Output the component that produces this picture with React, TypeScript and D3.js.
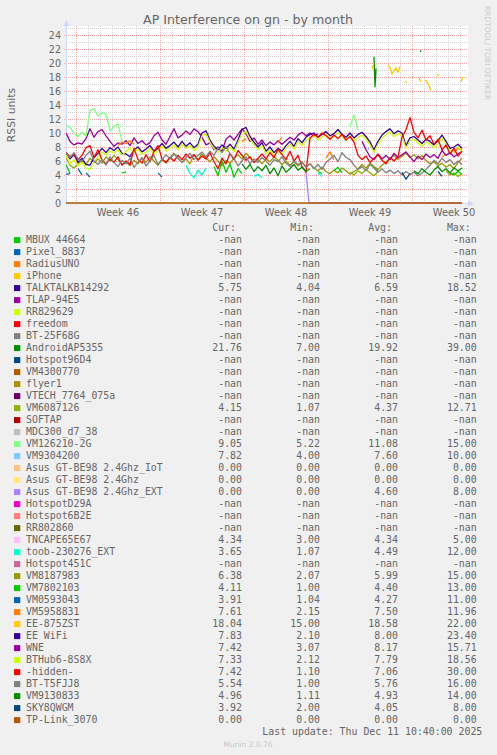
import React from "react";
import * as d3 from "d3";

// time span of the month graph (plot left edge .. right edge)
const T0 = new Date(2025, 10, 8, 4, 0);
const T1 = new Date(2025, 11, 11, 12, 0);
const HOUR = 3600 * 1000;

type Seg = { h: number; step: number; v: number[] };
// segment of 8-hour samples starting at sample index i
const seg = (i: number, v: number[]): Seg => ({ h: i * 8, step: 8, v });
// segment with its own start hour / step
const fine = (h: number, step: number, v: number[]): Seg => ({ h, step, v });

// ---- plotted values (RSSI units) ----
const TLAP_94E5: Seg[] = [
  seg(0, [10.0, 8.8, 8.3, 8.6, 8.4, 9.2, 10.6, 9.4, 10.2, 10.5,
    9.6, 8.8, 8.1, 8.6, 8.4, 8.9, 8.2, 9.3, 8.5, 8.9,
    8.3, 8.6, 9.6, 10.1, 9.0, 8.4, 9.5, 10.6, 9.3, 9.7,
    10.3, 9.8, 10.6, 10.2, 9.4, 8.3, 8.6, 7.6, 8.0, 7.4,
    9.1, 9.6, 9.0, 9.8, 10.6, 9.9, 8.8, 9.3, 8.4, 9.0,
    8.2, 8.7, 8.3, 8.9, 8.4, 8.9, 9.4, 9.0, 9.7, 10.1,
    9.6, 10.0, 9.5, 9.9]),
];

const WNE: Seg[] = [
  seg(74, [8.8, 7.6, 6.6, 6.2, 7.0, 6.3, 6.8, 6.2, 7.1, 6.5,
    6.9, 7.3, 6.6, 5.9, 6.7, 6.2, 7.0, 6.5, 6.9, 6.4,
    7.5, 6.8, 7.2, 6.6, 7.0, 7.4]),
];

const BTHUB6: Seg[] = [
  seg(0, [6.8, 5.6, 6.2, 5.3, 5.8, 5.0, 4.8, 5.9, 6.6, 7.3,
    6.9, 7.5, 7.1, 7.6, 6.8, 7.4, 7.9, 7.2, 7.7, 6.9,
    7.3, 7.8, 7.0, 7.5, 8.1, 7.4, 7.9, 8.3, 7.6, 8.4,
    7.8, 8.2, 7.5, 8.0, 9.6, 9.9, 8.6, 7.8, 7.2, 7.9,
    7.4, 8.0, 7.3, 8.6, 9.9, 10.2, 9.1, 8.3, 7.6, 8.2,
    7.0, 7.6, 6.8, 7.4, 7.0, 7.8, 8.4, 7.7, 8.8, 8.2,
    9.0, 9.3, 9.6, 9.0, 9.4, 9.8, 9.2, 9.5, 10.1, 9.4,
    9.0, 9.6, 8.9, 9.4, 9.7, 9.1, 8.3, 7.2, 8.4, 9.3,
    9.8, 10.2, 9.5, 9.9, 9.6, 7.8, 8.9, 9.1, 8.6, 8.1,
    8.7, 8.4, 7.9, 8.5, 9.3, 8.4, 7.4, 7.6, 8.0, 7.3]),
];

const EE_WIFI: Seg[] = [
  seg(0, [7.2, 6.3, 6.9, 5.8, 6.4, 5.5, 5.4, 6.5, 7.1, 7.8,
    7.2, 7.9, 7.5, 8.0, 7.1, 7.0, 6.6, 7.6, 8.0, 7.3,
    7.7, 8.2, 7.4, 7.8, 8.5, 7.8, 8.2, 8.7, 8.0, 8.8,
    8.1, 8.6, 7.9, 8.4, 10.0, 10.3, 9.0, 8.1, 7.6, 8.3,
    7.8, 8.4, 7.7, 9.0, 10.5, 10.8, 9.5, 8.7, 8.0, 8.6,
    7.4, 8.0, 7.2, 7.8, 7.4, 8.2, 8.8, 8.1, 9.2, 8.6,
    9.4, 9.8, 10.0, 9.4, 9.8, 10.2, 9.6, 9.9, 10.5, 9.8,
    9.4, 10.0, 9.3, 9.8, 10.1, 9.5, 8.7, 7.6, 8.8, 9.7,
    10.2, 10.6, 9.9, 10.3, 10.0, 8.2, 9.3, 9.5, 9.0, 8.5,
    9.1, 8.8, 8.3, 8.9, 9.7, 8.8, 7.8, 8.0, 8.4, 7.8]),
];

const HIDDEN: Seg[] = [
  seg(0, [7.2, 6.6, 7.0, 6.2, 6.8, 7.9, 8.2, 6.5, 7.6, 6.1,
    5.6, 6.3, 5.8, 6.6, 5.4, 6.0, 5.5, 7.8, 6.2, 5.7,
    6.9, 5.9, 7.4, 8.2, 6.3, 5.8, 6.5, 6.0, 6.8, 6.2,
    7.0, 6.4, 6.9, 6.1, 6.7, 6.3, 7.2, 5.9, 4.9, 6.4,
    5.6, 7.1, 6.2, 7.5, 6.8, 6.1, 6.6, 5.8, 6.4, 7.0,
    6.3, 7.2, 6.5, 7.7, 6.9, 6.2, 7.4, 6.0, 6.8, 5.2,
    4.4, 9.3, 9.8, 9.4, 10.0, 9.6, 9.1, 9.7, 9.2, 9.8,
    9.0, 9.5, 8.7, 6.8, 6.2, 6.7, 5.8, 6.4, 6.9, 6.1,
    5.6, 6.5, 6.0, 6.6, 9.4, 10.5, 12.2, 10.1, 9.3, 10.4,
    9.0, 9.6, 8.4, 9.1, 7.6, 8.3, 7.0, 7.8, 6.7, 7.4]),
];

const BT_T5FJJ8: Seg[] = [
  seg(0, [7.1, 6.5, 7.2, 6.3, 5.9, 6.8, 7.4, 6.0, 5.5, 6.2,
    5.4, 6.6, 5.8, 5.2, 6.1, 5.6, 6.4, 5.1, 5.8, 6.5,
    5.3, 6.0, 6.8, 5.5, 6.2, 6.9, 6.3, 7.0, 6.4, 5.8,
    6.5, 7.1, 6.2, 6.8, 7.3, 6.6, 7.4, 6.8, 7.9, 7.2,
    8.1, 7.0, 6.4, 5.3, 6.0, 6.6, 5.6, 6.3, 5.8, 6.5,
    6.0, 5.4, 6.2, 5.9, 6.6, 5.7, 5.2, 6.0, 5.5, 5.9,
    5.1, 5.6, 4.9, 5.5, 4.8, 5.8, 6.3, 6.8, 5.9, 7.2,
    6.5, 6.2, 5.4, 4.8, 5.2, 4.6, 5.5, 5.0, 4.4, 4.9,
    4.3, 4.7, 4.2, 4.6, 4.0, 4.5, 4.1, 4.4, 3.9, 4.3,
    4.8, 5.4, 6.1, 5.6, 6.4, 5.8, 6.2, 5.5, 6.0, 5.5]),
];

const VM8187983: Seg[] = [
  seg(0, [6.5, 5.4, 5.0, 5.6, 6.1, 5.5, 6.4, 5.8, 6.3, 5.7,
    6.6, 6.0, 6.8, 6.2, 5.5, 5.9, 5.3, 6.1, 5.6, 6.4,
    5.8, 6.6, 6.0, 5.4, 6.2, 5.7, 6.5, 7.1, 6.4, 5.8,
    6.3, 5.6, 6.9, 6.2, 7.0, 6.4, 5.9, 6.6, 6.0, 5.3,
    6.1, 5.7, 6.4, 6.9, 6.3, 7.1, 6.5, 5.8, 6.2, 5.6,
    6.3, 5.9, 6.6, 6.1, 5.5, 6.0, 5.4, 5.9, 5.3, 5.8,
    5.2, 5.6, 5.0, 4.6, 5.1, 4.5, 4.2, 4.7, 4.3, 5.0,
    4.6, 4.1, 4.5, 4.9, 5.5, 5.0, 5.7, 5.2, 4.8, 5.4,
    5.9, 6.4, 6.8, 6.2, 6.7, 7.1, 6.5, 6.9, 6.3, 6.8,
    6.1, 5.6, 5.9, 5.3, 5.7, 5.1, 5.5, 4.9, 5.8, 6.4]),
];

const VM6087126: Seg[] = [
  seg(71, [4.4, 4.0, 4.6, 4.2, 4.8, 4.3, 3.9, 4.5]),
  seg(95, [4.6, 4.0, 4.3, 3.8, 4.2]),
];

const VM9130833: Seg[] = [
  seg(44, [5.6, 4.8, 5.5, 4.5, 5.2, 4.6, 5.4, 4.2, 5.0, 3.9,
    5.3, 4.4, 4.9, 5.5, 4.7, 5.1, 4.5, 4.9]),
  seg(87, [4.6, 4.2, 4.9, 4.4, 4.0, 4.7, 5.2, 4.5, 4.9, 4.3, 5.0, 4.6, 5.0]),
];

const VM7802103: Seg[] = [
  seg(0, [5.5, 4.2]),
  seg(14, [4.3, 4.4]),
  seg(37, [5.2, 3.9, 6.0, 4.4, 5.6, 3.7, 4.9, 4.2]),
  seg(63, [4.5, 4.2]),
  seg(67, [4.6, 5.1, 4.3]),
  seg(77, [5.0, 4.6]),
  seg(96, [4.3, 4.0, 4.5, 4.1]),
];

const TOOB: Seg[] = [
  seg(30, [5.4, 4.2, 3.6, 4.7, 4.0, 5.0]),
  seg(47, [3.8, 4.1, 3.6]),
  seg(63, [4.3, 3.8]),
];

const VM0593043: Seg[] = [
  seg(0, [4.1, 4.2]),
  seg(3, [4.9, 4.0]),
  seg(5, [4.3, 3.7]),
  seg(23, [4.3, 3.7]),
];

const SKY8QWGM: Seg[] = [
  seg(84, [4.4, 3.4, 4.2]),
  seg(93, [4.5, 3.8]),
];

const VM5958831: Seg[] = [
  seg(13, [8.2, 8.7, 8.5, 8.9, 8.4]),
  seg(44, [8.8, 9.2]),
  seg(53, [8.6, 9.4]),
  seg(65, [6.4, 7.3, 6.2]),
  seg(94, [6.6, 7.0]),
  seg(97, [7.2, 7.8, 7.6]),
];

const VM126210_2G: Seg[] = [
  seg(0, [11.1, 10.8, 10.0, 9.5, 10.1, 9.6, 13.2, 13.5, 12.4, 12.9,
    12.7, 10.3, 11.0, 11.3, 8.8]),
  seg(71, [10.9, 12.6, 10.4]),
];

const VM9304200: Seg[] = [fine(604, 2, [7.6, 8.0])];

const ANDROIDAP5355: Seg[] = [
  fine(616, 2, [20.9, 16.6, 19.2]),
  fine(708, 2, [21.6, 21.8]),
];

const EE_875ZST: Seg[] = [
  fine(612, 2, [19.7, 19.1]),
  fine(644, 4, [19.7, 19.4, 18.4, 18.9, 19.3, 18.7, 19.5]),
  fine(678, 4, [17.4, 17.2]),
  fine(706, 4, [17.9, 17.3]),
  fine(718, 4, [17.6, 17.3, 16.8, 16.1]),
  fine(742, 4, [18.4, 18.2]),
  fine(790, 4, [17.3, 18.0]),
];

const ASUS_EXT: Seg[] = [fine(480, 6, [4.4, 0]), fine(486, 306, [0, 0])];
const ASUS_IOT: Seg[] = [fine(486, 306, [0, 0])];
const ASUS_24: Seg[] = [fine(486, 306, [0, 0])];
const TP_LINK_3070: Seg[] = [fine(0, 792, [0, 0])];

// ---- legend ----
const legendNames = [
  "MBUX 44664", "Pixel_8837", "RadiusUNO", "iPhone", "TALKTALKB14292", "TLAP-94E5",
  "RR829629", "freedom", "BT-25F68G", "AndroidAP5355", "Hotspot96D4", "VM4300770",
  "flyer1", "VTECH_7764_075a", "VM6087126", "SOFTAP", "MDC300_d7_38", "VM126210-2G",
  "VM9304200", "Asus GT-BE98 2.4Ghz_IoT", "Asus GT-BE98 2.4Ghz", "Asus GT-BE98 2.4Ghz_EXT",
  "HotspotD29A", "Hotspot6B2E", "RR802860", "TNCAPE65E67", "toob-230276_EXT", "Hotspot451C",
  "VM8187983", "VM7802103", "VM0593043", "VM5958831", "EE-875ZST", "EE WiFi", "WNE",
  "BTHub6-8S8X", "-hidden-", "BT-T5FJJ8", "VM9130833", "SKY8QWGM", "TP-Link_3070",
];

const legendColors = [
  "#00CC00", "#0066B3", "#FF8000", "#FFCC00", "#330099", "#990099", "#CCFF00", "#FF0000",
  "#808080", "#008F00", "#00487D", "#B35A00", "#B38F00", "#6B006B", "#8FB300", "#B30000",
  "#BEBEBE", "#80FF80", "#80C9FF", "#FFC080", "#FFE680", "#AA80FF", "#EE00CC", "#FF8080",
  "#666600", "#FFBFFF", "#00FFCC", "#CC6699", "#999900",
  "#00CC00", "#0066B3", "#FF8000", "#FFCC00", "#330099", "#990099", "#CCFF00", "#FF0000",
  "#808080", "#008F00", "#00487D", "#B35A00",
];

const N = NaN;
const curValues = [N, N, N, N, 5.75, N, N, N, N, 21.76, N, N, N, N, 4.15, N, N, 9.05, 7.82,
  0, 0, 0, N, N, N, 4.34, 3.65, N, 6.38, 4.11, 3.91, 7.61, 18.04, 7.83, 7.42, 7.33, 7.42,
  5.54, 4.96, 3.92, 0];
const minValues = [N, N, N, N, 4.04, N, N, N, N, 7.0, N, N, N, N, 1.07, N, N, 5.22, 4.0,
  0, 0, 0, N, N, N, 3.0, 1.07, N, 2.07, 1.0, 1.04, 2.15, 15.0, 2.1, 3.07, 2.12, 1.1,
  1.0, 1.11, 2.0, 0];
const avgValues = [N, N, N, N, 6.59, N, N, N, N, 19.92, N, N, N, N, 4.37, N, N, 11.08, 7.6,
  0, 0, 4.6, N, N, N, 4.34, 4.49, N, 5.99, 4.4, 4.27, 7.5, 18.58, 8.0, 8.17, 7.79, 7.06,
  5.76, 4.93, 4.05, 0];
const maxValues = [N, N, N, N, 18.52, N, N, N, N, 39.0, N, N, N, N, 12.71, N, N, 15.0, 10.0,
  0, 0, 8.0, N, N, N, 5.0, 12.0, N, 15.0, 13.0, 11.0, 11.96, 22.0, 23.4, 15.71, 18.56, 30.0,
  16.0, 14.0, 8.0, 0];

const seriesData: Record<string, Seg[]> = {
  "TLAP-94E5": TLAP_94E5,
  "AndroidAP5355": ANDROIDAP5355,
  "VM6087126": VM6087126,
  "VM126210-2G": VM126210_2G,
  "VM9304200": VM9304200,
  "Asus GT-BE98 2.4Ghz_IoT": ASUS_IOT,
  "Asus GT-BE98 2.4Ghz": ASUS_24,
  "Asus GT-BE98 2.4Ghz_EXT": ASUS_EXT,
  "toob-230276_EXT": TOOB,
  "VM8187983": VM8187983,
  "VM7802103": VM7802103,
  "VM0593043": VM0593043,
  "VM5958831": VM5958831,
  "EE-875ZST": EE_875ZST,
  "EE WiFi": EE_WIFI,
  "WNE": WNE,
  "BTHub6-8S8X": BTHUB6,
  "-hidden-": HIDDEN,
  "BT-T5FJJ8": BT_T5FJJ8,
  "VM9130833": VM9130833,
  "SKY8QWGM": SKY8QWGM,
  "TP-Link_3070": TP_LINK_3070,
};

const yTicks = [0, 2, 4, 6, 8, 10, 12, 14, 16, 18, 20, 22, 24];

const FONT = "#666666";
const AXIS = "#CFD6F8";
const SANS = "'DejaVu Sans', sans-serif";
const MONO = "'DejaVu Sans Mono', monospace";

export default function App() {
  const W = 497;
  const H = 755;
  const left = 66, right = 466, top = 28, bottom = 203;

  const x = d3.scaleTime().domain([T0, T1]).range([left, right]);
  const y = d3.scaleLinear().domain([0, 25]).range([bottom, top]);

  const line = d3
    .line<[number, number]>()
    .x((d) => x(new Date(T0.getTime() + d[0] * HOUR)))
    .y((d) => y(d[1]));

  const weeks = d3.timeSunday.range(T0, T1);
  const days = d3.timeDay.range(T0, T1).filter((d) => d.getDay() !== 0);
  const weekLabel = d3.timeFormat("Week %V");
  const fmt = d3.format(".2f");
  const val = (v: number) => (isNaN(v) ? "-nan" : fmt(v));

  const minorY = d3.range(1, 26).filter((v) => v % 2 === 1);
  const majorY = yTicks.filter((v) => v > 0);

  const rowY = (i: number) => 243.3 + i * 12;
  const cols = [242, 320, 398, 476.7];
  const heads = ["Cur:", "Min:", "Avg:", "Max:"];
  const stats = [curValues, minValues, avgValues, maxValues];

  return (
    <svg
      width={W}
      height={H}
      style={{ position: "absolute", left: 0, top: 0, background: "#F0F0F0" }}
    >
      <rect x={0} y={0} width={W} height={H} fill="#F0F0F0" />
      <defs>
        <clipPath id="plot">
          <rect x={left} y={top - 2} width={right - left + 1} height={bottom - top + 4} />
        </clipPath>
      </defs>

      {/* canvas */}
      <rect x={left} y={top - 2} width={right - left + 2} height={bottom - top + 2} fill="#FFFFFF" />

      {/* grid */}
      <g shapeRendering="crispEdges" strokeWidth={1}>
        {days.map((d, i) => (
          <line key={"d" + i} x1={Math.round(x(d)) + 0.5} x2={Math.round(x(d)) + 0.5} y1={top - 2} y2={bottom}
            stroke="#D2D2D2" strokeDasharray="1,1" />
        ))}
        {minorY.map((v) => (
          <line key={"my" + v} x1={left} x2={right + 2} y1={Math.round(y(v)) + 0.5} y2={Math.round(y(v)) + 0.5}
            stroke="#D2D2D2" strokeDasharray="1,1" />
        ))}
        {weeks.map((d, i) => (
          <line key={"w" + i} x1={Math.round(x(d)) + 0.5} x2={Math.round(x(d)) + 0.5} y1={top - 2} y2={bottom}
            stroke="#F0A8A8" strokeDasharray="1,1" />
        ))}
        {majorY.map((v) => (
          <line key={"My" + v} x1={left - 2} x2={right + 2} y1={Math.round(y(v)) + 0.5} y2={Math.round(y(v)) + 0.5}
            stroke="#F0A8A8" strokeDasharray="1,1" />
        ))}
      </g>

      {/* axes */}
      <line x1={left + 0.5} x2={left + 0.5} y1={bottom + 0.5} y2={24} stroke={AXIS} />
      <path d={`M${left - 2.5},${26} L${left + 0.5},${20} L${left + 3.5},${26} Z`} fill={AXIS} />
      <line x1={left} x2={right + 4} y1={bottom + 0.5} y2={bottom + 0.5} stroke={AXIS} />
      <path d={`M${right + 2},${bottom - 2.5} L${right + 8},${bottom + 0.5} L${right + 2},${bottom + 3.5} Z`} fill={AXIS} />

      {/* data */}
      <g clipPath="url(#plot)" fill="none" strokeWidth={1.3} strokeLinejoin="round">
        {legendNames.map((name, i) =>
          (seriesData[name] || []).map((s, j) => (
            <path
              key={name + j}
              stroke={legendColors[i]}
              d={line(s.v.map((v, k) => [s.h + k * s.step, v] as [number, number])) || ""}
            />
          ))
        )}
      </g>

      {/* y tick labels */}
      <g fontFamily={SANS} fontSize={9.6} fill={FONT} textAnchor="end">
        {yTicks.map((v) => (
          <text key={v} x={61} y={y(v) + 3.6}>{v}</text>
        ))}
      </g>

      {/* x labels */}
      <g fontFamily={SANS} fontSize={9.8} fill={FONT} textAnchor="middle">
        {weeks.map((d, i) => {
          const mid = d3.timeHour.offset(d, 84);
          return (
            <text key={i} x={x(mid)} y={216}>{weekLabel(mid)}</text>
          );
        })}
      </g>

      {/* titles */}
      <text x={248} y={23.5} fontFamily={SANS} fontSize={12.6} fill={FONT} textAnchor="middle">
        AP Interference on gn - by month
      </text>
      <text transform="translate(14.5,115) rotate(-90)" fontFamily={SANS} fontSize={10.8} fill={FONT} textAnchor="middle">
        RSSI units
      </text>
      <text transform="translate(485,53) rotate(90)" fontFamily={SANS} fontSize={7.5} fill="#CCCCCC" textAnchor="middle">
        RRDTOOL/ TOBI OETIKER
      </text>

      {/* legend */}
      <g fontFamily={MONO} fontSize={9.9} fill={FONT}>
        {heads.map((h, c) => (
          <text key={h} x={cols[c] - 6} y={rowY(-1)} textAnchor="end">{h}</text>
        ))}
        {legendNames.map((name, i) => (
          <g key={name}>
            <rect x={14} y={rowY(i) - 6.2} width={6.3} height={6} fill={legendColors[i]} />
            <text x={26} y={rowY(i)} style={{ whiteSpace: "pre" }}>{name}</text>
            {stats.map((arr, c) => (
              <text key={c} x={cols[c]} y={rowY(i)} textAnchor="end">{val(arr[i])}</text>
            ))}
          </g>
        ))}
        <text x={482.3} y={rowY(41)} textAnchor="end">Last update: Thu Dec 11 10:40:00 2025</text>
      </g>

      <text x={248} y={747} fontFamily={SANS} fontSize={7.5} fill="#C8C8C8" textAnchor="middle">
        Munin 2.0.76
      </text>
    </svg>
  );
}
